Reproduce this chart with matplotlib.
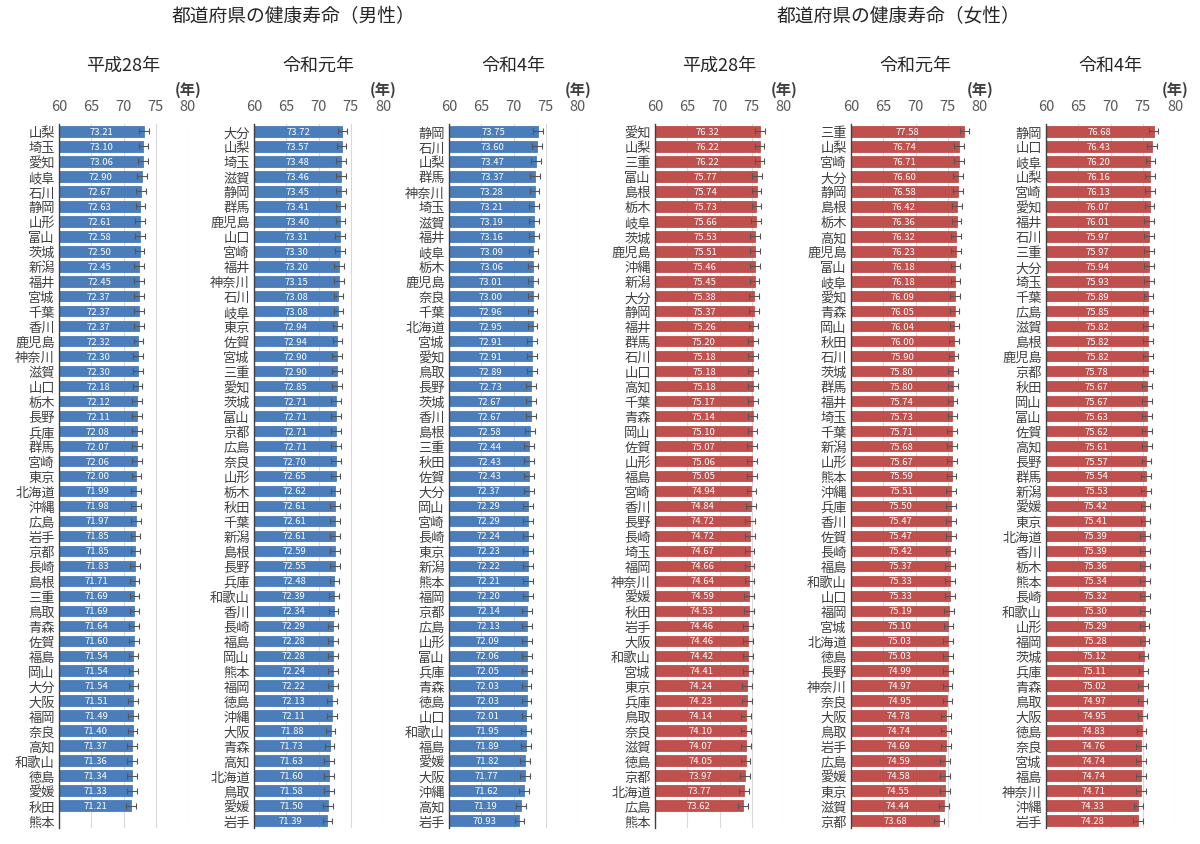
import numpy as np
import matplotlib
matplotlib.use("Agg")
import matplotlib.pyplot as plt

plt.rcParams['font.family'] = ['Noto Sans CJK JP', 'DejaVu Sans']

nan = np.nan

# 男性 平成28年
m_h28_names = ["山梨", "埼玉", "愛知", "岐阜", "石川", "静岡", "山形", "富山", "茨城", "新潟",
               "福井", "宮城", "千葉", "香川", "鹿児島", "神奈川", "滋賀", "山口", "栃木", "長野",
               "兵庫", "群馬", "宮崎", "東京", "北海道", "沖縄", "広島", "岩手", "京都", "長崎",
               "島根", "三重", "鳥取", "青森", "佐賀", "福島", "岡山", "大分", "大阪", "福岡",
               "奈良", "高知", "和歌山", "徳島", "愛媛", "秋田", "熊本"]
m_h28_vals = [73.21, 73.10, 73.06, 72.90, 72.67, 72.63, 72.61, 72.58, 72.50, 72.45,
              72.45, 72.37, 72.37, 72.37, 72.32, 72.30, 72.30, 72.18, 72.12, 72.11,
              72.08, 72.07, 72.06, 72.00, 71.99, 71.98, 71.97, 71.85, 71.85, 71.83,
              71.71, 71.69, 71.69, 71.64, 71.60, 71.54, 71.54, 71.54, 71.51, 71.49,
              71.40, 71.37, 71.36, 71.34, 71.33, 71.21, nan]

# 男性 令和元年
m_r1_names = ["大分", "山梨", "埼玉", "滋賀", "静岡", "群馬", "鹿児島", "山口", "宮崎", "福井",
              "神奈川", "石川", "岐阜", "東京", "佐賀", "宮城", "三重", "愛知", "茨城", "富山",
              "京都", "広島", "奈良", "山形", "栃木", "秋田", "千葉", "新潟", "島根", "長野",
              "兵庫", "和歌山", "香川", "長崎", "福島", "岡山", "熊本", "福岡", "徳島", "沖縄",
              "大阪", "青森", "高知", "北海道", "鳥取", "愛媛", "岩手"]
m_r1_vals = [73.72, 73.57, 73.48, 73.46, 73.45, 73.41, 73.40, 73.31, 73.30, 73.20,
             73.15, 73.08, 73.08, 72.94, 72.94, 72.90, 72.90, 72.85, 72.71, 72.71,
             72.71, 72.71, 72.70, 72.65, 72.62, 72.61, 72.61, 72.61, 72.59, 72.55,
             72.48, 72.39, 72.34, 72.29, 72.28, 72.28, 72.24, 72.22, 72.13, 72.11,
             71.88, 71.73, 71.63, 71.60, 71.58, 71.50, 71.39]

# 男性 令和4年
m_r4_names = ["静岡", "石川", "山梨", "群馬", "神奈川", "埼玉", "滋賀", "福井", "岐阜", "栃木",
              "鹿児島", "奈良", "千葉", "北海道", "宮城", "愛知", "鳥取", "長野", "茨城", "香川",
              "島根", "三重", "秋田", "佐賀", "大分", "岡山", "宮崎", "長崎", "東京", "新潟",
              "熊本", "福岡", "京都", "広島", "山形", "富山", "兵庫", "青森", "徳島", "山口",
              "和歌山", "福島", "愛媛", "大阪", "沖縄", "高知", "岩手"]
m_r4_vals = [73.75, 73.60, 73.47, 73.37, 73.28, 73.21, 73.19, 73.16, 73.09, 73.06,
             73.01, 73.00, 72.96, 72.95, 72.91, 72.91, 72.89, 72.73, 72.67, 72.67,
             72.58, 72.44, 72.43, 72.43, 72.37, 72.29, 72.29, 72.24, 72.23, 72.22,
             72.21, 72.20, 72.14, 72.13, 72.09, 72.06, 72.05, 72.03, 72.03, 72.01,
             71.95, 71.89, 71.82, 71.77, 71.62, 71.19, 70.93]

# 女性 平成28年
f_h28_names = ["愛知", "山梨", "三重", "富山", "島根", "栃木", "岐阜", "茨城", "鹿児島", "沖縄",
               "新潟", "大分", "静岡", "福井", "群馬", "石川", "山口", "高知", "千葉", "青森",
               "岡山", "佐賀", "山形", "福島", "宮崎", "香川", "長野", "長崎", "埼玉", "福岡",
               "神奈川", "愛媛", "秋田", "岩手", "大阪", "和歌山", "宮城", "東京", "兵庫", "鳥取",
               "奈良", "滋賀", "徳島", "京都", "北海道", "広島", "熊本"]
f_h28_vals = [76.32, 76.22, 76.22, 75.77, 75.74, 75.73, 75.66, 75.53, 75.51, 75.46,
              75.45, 75.38, 75.37, 75.26, 75.20, 75.18, 75.18, 75.18, 75.17, 75.14,
              75.10, 75.07, 75.06, 75.05, 74.94, 74.84, 74.72, 74.72, 74.67, 74.66,
              74.64, 74.59, 74.53, 74.46, 74.46, 74.42, 74.41, 74.24, 74.23, 74.14,
              74.10, 74.07, 74.05, 73.97, 73.77, 73.62, nan]

# 女性 令和元年
f_r1_names = ["三重", "山梨", "宮崎", "大分", "静岡", "島根", "栃木", "高知", "鹿児島", "富山",
              "岐阜", "愛知", "青森", "岡山", "秋田", "石川", "茨城", "群馬", "福井", "埼玉",
              "千葉", "新潟", "山形", "熊本", "沖縄", "兵庫", "香川", "佐賀", "長崎", "福島",
              "和歌山", "山口", "福岡", "宮城", "北海道", "徳島", "長野", "神奈川", "奈良", "大阪",
              "鳥取", "岩手", "広島", "愛媛", "東京", "滋賀", "京都"]
f_r1_vals = [77.58, 76.74, 76.71, 76.60, 76.58, 76.42, 76.36, 76.32, 76.23, 76.18,
             76.18, 76.09, 76.05, 76.04, 76.00, 75.90, 75.80, 75.80, 75.74, 75.73,
             75.71, 75.68, 75.67, 75.59, 75.51, 75.50, 75.47, 75.47, 75.42, 75.37,
             75.33, 75.33, 75.19, 75.10, 75.03, 75.03, 74.99, 74.97, 74.95, 74.78,
             74.74, 74.69, 74.59, 74.58, 74.55, 74.44, 73.68]

# 女性 令和4年
f_r4_names = ["静岡", "山口", "岐阜", "山梨", "宮崎", "愛知", "福井", "石川", "三重", "大分",
              "埼玉", "千葉", "広島", "滋賀", "島根", "鹿児島", "京都", "秋田", "岡山", "富山",
              "佐賀", "高知", "長野", "群馬", "新潟", "愛媛", "東京", "北海道", "香川", "栃木",
              "熊本", "長崎", "和歌山", "山形", "福岡", "茨城", "兵庫", "青森", "鳥取", "大阪",
              "徳島", "奈良", "宮城", "福島", "神奈川", "沖縄", "岩手"]
f_r4_vals = [76.68, 76.43, 76.20, 76.16, 76.13, 76.07, 76.01, 75.97, 75.97, 75.94,
             75.93, 75.89, 75.85, 75.82, 75.82, 75.82, 75.78, 75.67, 75.67, 75.63,
             75.62, 75.61, 75.57, 75.54, 75.53, 75.42, 75.41, 75.39, 75.39, 75.36,
             75.34, 75.32, 75.30, 75.29, 75.28, 75.12, 75.11, 75.02, 74.97, 74.95,
             74.83, 74.76, 74.74, 74.74, 74.71, 74.33, 74.28]

years = ["平成28年", "令和元年", "令和4年"]
ci_half = 0.75  # approximate half-width of the error bars (years)

BLUE = "#4a7dba"
RED = "#c0504d"

panels = [
    (m_h28_names, m_h28_vals, BLUE, years[0]),
    (m_r1_names, m_r1_vals, BLUE, years[1]),
    (m_r4_names, m_r4_vals, BLUE, years[2]),
    (f_h28_names, f_h28_vals, RED, years[0]),
    (f_r1_names, f_r1_vals, RED, years[1]),
    (f_r4_names, f_r4_vals, RED, years[2]),
]

W, H = 1200, 845
fig = plt.figure(figsize=(W / 100, H / 100), dpi=100)
fig.patch.set_facecolor("white")

lefts_px = [59, 254, 449, 655, 851, 1046]
ax_w_px = 129
ax_top_px, ax_bot_px = 125, 829

for (names, vals, color, title), lx in zip(panels, lefts_px):
    ax = fig.add_axes([lx / W, 1 - ax_bot_px / H, ax_w_px / W, (ax_bot_px - ax_top_px) / H])
    vals = np.array(vals, dtype=float)
    y = np.arange(len(names))
    ax.barh(y, vals, height=0.7, color=color, edgecolor=color, linewidth=0.6, zorder=2)
    ok = ~np.isnan(vals)
    ax.errorbar(vals[ok], y[ok], xerr=ci_half, fmt="none", ecolor="#555555",
                elinewidth=0.8, capsize=2, capthick=0.8, zorder=3)
    for yi, v in zip(y, vals):
        if np.isnan(v):
            continue
        ax.text((60 + v) / 2, yi, f"{v:.2f}", ha="center", va="center",
                color="white", fontsize=6.8, zorder=4)
    ax.set_xlim(60, 80)
    ax.set_ylim(len(names) - 0.5, -0.5)
    ax.set_xticks([60, 65, 70, 75, 80])
    ax.xaxis.tick_top()
    ax.tick_params(axis="x", length=0, labelsize=10.5, labelcolor="#595959", pad=8)
    ax.set_yticks(y)
    ax.set_yticklabels(names)
    ax.tick_params(axis="y", length=0, labelsize=9.5, labelcolor="#404040", pad=3)
    ax.grid(axis="x", color="#d9d9d9", linewidth=0.8, zorder=0)
    ax.set_axisbelow(True)
    for s in ["top", "right", "bottom"]:
        ax.spines[s].set_visible(False)
    ax.spines["left"].set_color("#404040")
    ax.spines["left"].set_linewidth(1.0)
    ax.set_title(title, fontsize=13, color="#262626", pad=39)
    ax.text(1.0, 1.039, "(年)", transform=ax.transAxes, ha="center", va="bottom",
            fontsize=11, color="#404040", fontweight="bold")

fig.text(293 / W, 1 - 17 / H, "都道府県の健康寿命（男性）", ha="center", va="center",
         fontsize=13.5, color="#262626")
fig.text(898 / W, 1 - 17 / H, "都道府県の健康寿命（女性）", ha="center", va="center",
         fontsize=13.5, color="#262626")

fig.savefig("out.png", dpi=100, facecolor="white")
